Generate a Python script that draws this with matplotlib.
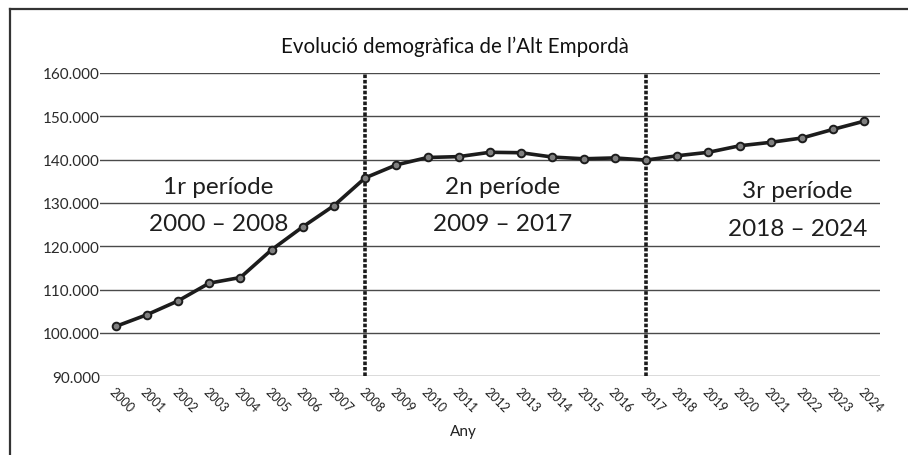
import matplotlib
matplotlib.use("Agg")
import matplotlib.pyplot as plt
from matplotlib.ticker import FuncFormatter
from matplotlib.lines import Line2D

plt.rcParams['font.family'] = ['Lato', 'DejaVu Sans']

# Data
years = list(range(2000, 2025))
population = [101500, 104200, 107400, 111500, 112800, 119200, 124500, 129400, 135800,
              138800, 140500, 140700, 141700, 141600, 140600, 140200, 140400, 139900,
              140900, 141700, 143200, 144000, 145000, 147000, 148900]
period_breaks = [2008, 2017]
period_names = ["1r període", "2n període", "3r període"]
period_ranges = ["2000 – 2008", "2009 – 2017", "2018 – 2024"]
period_label_x = [2003.3, 2012.4, 2021.85]
period_name_y = [132300, 132300, 131400]
period_range_y = [123800, 123800, 122700]
y_ticks = list(range(90000, 160001, 10000))

fig = plt.figure(figsize=(9.08, 4.56), dpi=100)
ax = fig.add_axes([100/908, 78.7/456, 780/908, 303.3/456])

for v in y_ticks:
    ax.axhline(v, color='#4a4a4a', lw=1.0, zorder=1)

for b in period_breaks:
    ax.axvline(b, color='#1a1a1a', lw=2.6, ls=(0, (1, 0.5)), zorder=2)

ax.plot(years, population, color='#1c1c1c', lw=2.6, marker='o', ms=5.5,
        mfc='#808080', mec='#1c1c1c', mew=1.4, zorder=3)

for x, yn, yr, n, r in zip(period_label_x, period_name_y, period_range_y, period_names, period_ranges):
    ax.text(x, yn, n, ha='center', va='baseline', fontsize=17.5, color='#1e1e1e', zorder=4)
    ax.text(x, yr, r, ha='center', va='baseline', fontsize=17.5, color='#1e1e1e', zorder=4)

ax.set_xlim(1999.5, 2024.5)
ax.set_ylim(90000, 160000)
ax.set_yticks(y_ticks)
ax.yaxis.set_major_formatter(FuncFormatter(lambda v, p: f"{int(v):,}".replace(",", ".")))
ax.set_xticks(years)
ax.set_xticklabels([str(y) for y in years], rotation=-45, ha='left', va='top',
                   rotation_mode='anchor', fontsize=9, color='#222222')
ax.tick_params(axis='both', length=0)
ax.tick_params(axis='x', pad=6)
ax.tick_params(axis='y', pad=0, labelsize=11, labelcolor='#2a2a2a')
for s in ax.spines.values():
    s.set_visible(False)

fig.text(455/908, 1 - 47/456, "Evolució demogràfica de l’Alt Empordà", ha='center', va='center',
         fontsize=14.8, color='#111111')
fig.text(463/908, 1 - 432/456, "Any", ha='center', va='center', fontsize=11, color='#222222')

# frame (only top and left edges visible)
fig.add_artist(Line2D([10/908, 10/908], [0, 1 - 10/456], transform=fig.transFigure,
                      color='#333333', lw=1.6))
fig.add_artist(Line2D([10/908, 1], [1 - 10/456, 1 - 10/456], transform=fig.transFigure,
                      color='#333333', lw=1.6))

fig.savefig("out.png", dpi=100)
